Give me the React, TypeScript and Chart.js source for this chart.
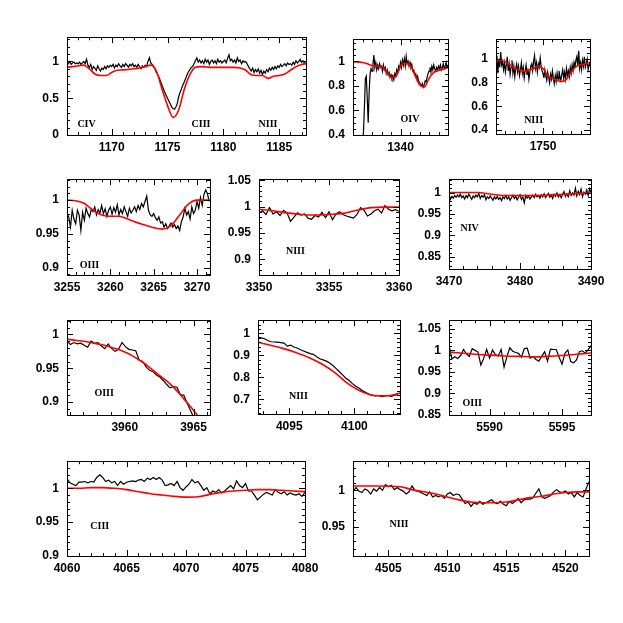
import React, { useEffect, useRef } from 'react';
import { Chart, registerables } from 'chart.js';

Chart.register(...registerables);

// ---------- Panel 1 : 1166-1187 (CIV, CIII, NIII) ----------
const p1Start = 1166;
const p1Step = 0.125;
const p1Obs = [
  0.99, 0.97, 1.00, 0.96, 0.98, 0.99, 0.97, 0.98,
  0.97, 0.99, 0.96, 0.98, 1.00, 0.97, 1.03, 0.95,
  0.92, 0.96, 0.89, 0.93, 0.91, 0.88, 0.94, 0.90,
  0.87, 0.91, 0.89, 0.93, 0.90, 0.94, 0.92, 0.95,
  0.93, 0.96, 0.91, 0.95, 0.93, 0.97, 0.94, 0.92,
  0.96, 0.93, 0.97, 0.95, 0.92, 0.96, 0.94, 0.97,
  0.93, 0.95, 0.92, 0.96, 0.93, 0.90, 0.94, 0.92,
  0.95, 0.93, 1.00, 1.05, 0.98, 0.96, 0.93, 0.90,
  0.85, 0.82, 0.78, 0.73, 0.68, 0.63, 0.58, 0.54,
  0.50, 0.46, 0.42, 0.38, 0.36, 0.35, 0.38, 0.43,
  0.52, 0.58, 0.63, 0.68, 0.72, 0.77, 0.82, 0.86,
  0.89, 0.92, 0.93, 0.97, 1.01, 1.05, 0.99, 1.02,
  0.98, 1.01, 0.97, 1.03, 0.99, 1.02, 0.96, 1.00,
  1.02, 0.98, 1.01, 0.97, 1.03, 0.99, 1.01, 0.98,
  1.00, 1.02, 0.98, 1.04, 1.09, 1.01, 1.03, 0.99,
  1.02, 0.98, 1.05, 1.00, 1.02, 0.97, 1.01, 0.99,
  1.00, 0.97, 0.93, 0.90, 0.87, 0.91, 0.85, 0.89,
  0.86, 0.90, 0.84, 0.88, 0.82, 0.87, 0.84, 0.89,
  0.86, 0.91, 0.88, 0.92, 0.89, 0.93, 0.90, 0.94,
  0.92, 0.96, 0.93, 0.95, 0.97, 0.94, 0.98, 0.96,
  0.97, 0.95, 0.99, 0.96, 1.01, 0.98, 1.00, 1.03,
  0.99, 1.01, 0.98, 1.00,
];
const p1ModelX = [1166, 1166.5, 1167, 1167.5, 1168, 1168.5, 1169, 1169.5, 1170, 1170.5, 1171, 1171.5, 1172, 1172.5, 1173, 1173.5, 1174, 1174.5, 1175, 1175.5, 1176, 1176.5, 1177, 1177.5, 1178, 1178.5, 1179, 1179.5, 1180, 1180.5, 1181, 1181.5, 1182, 1182.5, 1183, 1183.5, 1184, 1184.5, 1185, 1185.5, 1186, 1186.5, 1187, 1187.5];
const p1ModelY = [0.92, 0.93, 0.94, 0.95, 0.90, 0.83, 0.81, 0.81, 0.85, 0.88, 0.885, 0.89, 0.90, 0.91, 0.93, 0.95, 0.87, 0.63, 0.40, 0.24, 0.34, 0.62, 0.82, 0.92, 0.93, 0.925, 0.92, 0.92, 0.92, 0.92, 0.92, 0.91, 0.88, 0.82, 0.81, 0.81, 0.77, 0.80, 0.81, 0.83, 0.88, 0.93, 0.96, 0.97];
const p1XTicks = [1170, 1175, 1180, 1185];
const p1YTicks = [0, 0.5, 1];

// ---------- Panel 2 : 1335-1345 (OIV) ----------
const p2Start = 1336;
const p2Step = 0.1;
const p2Obs = [
  0.30, 0.42, 0.62, 0.86, 0.88, 0.70, 0.50, 0.75, 0.90, 0.94,
  0.92, 0.98, 1.05, 0.95, 0.99, 0.93, 0.97, 0.94, 0.98, 0.95,
  0.96, 0.92, 0.97, 0.93, 0.95, 0.90, 0.93, 0.89, 0.91, 0.87,
  0.89, 0.86, 0.88, 0.85, 0.90, 0.88, 0.93, 0.91, 0.96, 0.94,
  0.99, 0.95, 1.01, 0.97, 1.02, 0.96, 1.04, 0.98, 1.00, 0.96,
  0.99, 0.95, 0.97, 0.92, 0.93, 0.89, 0.90, 0.86, 0.88, 0.84,
  0.83, 0.81, 0.80, 0.82, 0.79, 0.81, 0.84, 0.83, 0.87, 0.90,
  0.92, 0.95, 0.91, 0.96, 0.93, 0.97, 0.94, 0.92, 0.95, 0.93,
  0.96, 0.94, 0.97, 0.93, 0.95, 0.98, 0.94, 0.96, 0.99, 0.95,
  0.97,
];
const p2ModelX = [1335, 1335.5, 1336, 1336.5, 1337, 1337.5, 1338, 1338.5, 1339, 1339.5, 1340, 1340.5, 1341, 1341.5, 1342, 1342.5, 1343, 1343.5, 1344, 1344.5, 1345];
const p2ModelY = [0.995, 0.995, 0.99, 0.98, 0.965, 0.96, 0.955, 0.92, 0.87, 0.875, 0.96, 0.985, 0.97, 0.89, 0.81, 0.79, 0.86, 0.91, 0.925, 0.935, 0.95];
const p2XTicks = [1340];
const p2YTicks = [0.4, 0.6, 0.8, 1];

// ---------- Panel 3 : 1745-1755 (NIII) ----------
const p3Start = 1745;
const p3Step = 0.1;
const p3Obs = [
  0.96, 1.03, 0.88, 1.00, 0.93, 1.06, 0.95, 0.98, 0.91, 0.97,
  0.89, 0.95, 1.02, 0.90, 0.96, 0.87, 0.93, 0.99, 0.88, 0.94,
  0.85, 0.92, 0.96, 0.89, 0.94, 0.86, 0.91, 0.97, 0.88, 0.93,
  0.84, 0.90, 0.95, 0.87, 0.92, 0.83, 0.89, 0.94, 0.96, 0.90,
  0.98, 1.03, 0.92, 0.97, 0.89, 0.96, 0.93, 1.01, 0.94, 0.90,
  0.88, 0.84, 0.91, 0.86, 0.82, 0.89, 0.85, 0.80, 0.87, 0.83,
  0.90, 0.84, 0.79, 0.86, 0.81, 0.88, 0.83, 0.90, 0.85, 0.82,
  0.87, 0.91, 0.84, 0.89, 0.83, 0.92, 0.86, 0.90, 0.85, 0.93,
  0.88, 0.95, 0.90, 0.97, 0.93, 0.99, 1.02, 0.94, 1.07, 0.92,
  0.97, 0.91, 0.99, 0.94, 1.02, 0.93, 0.96, 1.00, 0.91, 0.95,
  0.97,
];
const p3ModelX = [1745, 1745.5, 1746, 1746.5, 1747, 1747.5, 1748, 1748.5, 1749, 1749.5, 1750, 1750.5, 1751, 1751.5, 1752, 1752.5, 1753, 1753.5, 1754, 1754.5, 1755];
const p3ModelY = [0.985, 0.99, 0.975, 0.95, 0.92, 0.905, 0.898, 0.905, 0.92, 0.94, 0.92, 0.86, 0.835, 0.82, 0.81, 0.83, 0.89, 0.935, 0.95, 0.96, 0.975];
const p3XTicks = [1750];
const p3YTicks = [0.4, 0.6, 0.8, 1];

// ---------- Panel 4 : 3255-3271.5 (OIII) ----------
const p4Start = 3255;
const p4Step = 0.2;
const p4Obs = [
  0.980, 0.975, 0.960, 0.985, 0.972, 0.965, 0.985, 0.978, 0.955, 0.982,
  0.970, 0.988, 0.980, 0.975, 0.986, 0.983, 0.990, 0.978, 0.986, 0.981,
  0.992, 0.980, 0.987, 0.976, 0.985, 0.990, 0.979, 0.989, 0.982, 0.993,
  0.978, 0.986, 0.980, 0.990, 0.983, 0.976, 0.988, 0.981, 0.985, 0.990,
  0.983, 0.992, 0.986, 0.995, 0.990, 0.998, 1.006, 0.985, 0.978, 0.976,
  0.980, 0.974, 0.970, 0.975, 0.966, 0.968, 0.960, 0.965, 0.958, 0.962,
  0.966, 0.960, 0.964, 0.958, 0.962, 0.955, 0.968, 0.975, 0.988, 0.978,
  0.983, 0.972, 0.990, 0.980, 0.985, 0.998, 0.988, 1.004, 0.992, 1.008,
  1.015, 1.010, 0.998,
];
const p4ModelX = [3255, 3256, 3257, 3258, 3259, 3260, 3261, 3262, 3263, 3264, 3265, 3266, 3267, 3268, 3269, 3270, 3271, 3271.5];
const p4ModelY = [1.0, 0.999, 0.995, 0.985, 0.978, 0.976, 0.976, 0.972, 0.967, 0.963, 0.959, 0.957, 0.962, 0.978, 0.994, 1.0, 1.0, 1.0];
const p4XTicks = [3255, 3260, 3265, 3270];
const p4YTicks = [0.9, 0.95, 1];

// ---------- Panel 5 : 3350-3360 (NIII) ----------
const p5Start = 3350;
const p5Step = 0.25;
const p5Obs = [
  0.988, 0.992, 0.985, 0.998, 0.986, 0.990, 0.983, 0.993, 0.988, 0.972,
  0.980, 0.988, 0.984, 0.986, 0.978, 0.976, 0.983, 0.980, 0.989, 0.979,
  0.990, 0.975, 0.986, 0.990, 0.985, 0.982, 0.980, 0.978, 0.985, 0.998,
  0.993, 0.982, 0.986, 0.992, 0.995, 0.988, 1.002, 0.995, 0.992, 0.994,
  0.991,
];
const p5ModelX = [3350, 3351, 3352, 3353, 3354, 3355, 3356, 3357, 3358, 3359, 3360];
const p5ModelY = [0.995, 0.992, 0.988, 0.985, 0.984, 0.985, 0.987, 0.993, 0.998, 0.999, 0.999];
const p5XTicks = [3350, 3355, 3360];
const p5YTicks = [0.9, 0.95, 1, 1.05];

// ---------- Panel 6 : 3470-3490 (NIV) ----------
const p6Start = 3470;
const p6Step = 0.2;
const p6Obs = [
  0.995, 0.984, 0.991, 0.987, 0.993, 0.989, 0.994, 0.990, 0.996, 0.988,
  0.992, 0.985, 0.993, 0.988, 0.996, 0.990, 0.984, 0.992, 0.988, 0.994,
  0.990, 0.998, 0.986, 0.993, 0.989, 0.995, 0.983, 0.990, 0.986, 0.992,
  0.987, 0.982, 0.990, 0.985, 0.991, 0.984, 0.988, 0.981, 0.990, 0.986,
  0.993, 0.985, 0.990, 0.982, 0.988, 0.994, 0.986, 0.991, 0.983, 0.989,
  0.995, 0.984, 0.990, 0.976, 0.993, 0.987, 0.992, 0.985, 0.990, 0.994,
  0.988, 0.996, 0.990, 0.993, 0.987, 0.995, 0.990, 0.997, 0.988, 0.993,
  0.998, 0.989, 0.994, 0.986, 0.996, 0.991, 0.999, 0.990, 0.995, 0.988,
  0.996, 1.002, 0.991, 0.997, 0.990, 1.004, 0.993, 0.999, 0.994, 1.010,
  0.992, 1.003, 0.995, 1.008, 0.990, 1.001, 0.996, 1.006, 0.993, 1.009,
  1.000,
];
const p6ModelX = [3470, 3472, 3474, 3476, 3478, 3480, 3482, 3484, 3486, 3488, 3490];
const p6ModelY = [1.0, 1.0, 1.0, 0.996, 0.993, 0.993, 0.993, 0.994, 0.996, 0.997, 0.999];
const p6XTicks = [3470, 3480, 3490];
const p6YTicks = [0.85, 0.9, 0.95, 1];

// ---------- Panel 7 : 3955.8-3966.2 (OIII) ----------
const p7Start = 3955.8;
const p7Step = 0.25;
const p7Obs = [
  0.991, 0.985, 0.988, 0.986, 0.987, 0.984, 0.981, 0.990, 0.987, 0.988,
  0.983, 0.979, 0.986, 0.979, 0.975, 0.978, 0.988, 0.982, 0.978, 0.977,
  0.976, 0.962, 0.960, 0.952, 0.947, 0.945, 0.940, 0.937, 0.932, 0.926,
  0.921, 0.923, 0.922, 0.911, 0.910, 0.898, 0.887, 0.876,
];
const p7ModelX = [3955.8, 3956.5, 3957, 3957.5, 3958, 3958.5, 3959, 3959.5, 3960, 3960.5, 3961, 3961.5, 3962, 3962.5, 3963, 3963.5, 3964, 3964.5, 3965, 3965.3];
const p7ModelY = [0.993, 0.991, 0.990, 0.988, 0.986, 0.984, 0.981, 0.978, 0.974, 0.969, 0.963, 0.956, 0.948, 0.940, 0.932, 0.923, 0.912, 0.900, 0.888, 0.880];
const p7XTicks = [3960, 3965];
const p7YTicks = [0.9, 0.95, 1];

// ---------- Panel 8 : 4092.6-4103.5 (NIII) ----------
const p8Start = 4092.6;
const p8Step = 0.25;
const p8Obs = [
  0.983, 0.980, 0.976, 0.968, 0.962, 0.961, 0.960, 0.958, 0.956, 0.942,
  0.947, 0.938, 0.934, 0.926, 0.920, 0.914, 0.908, 0.905, 0.894, 0.885,
  0.880, 0.874, 0.866, 0.854, 0.840, 0.826, 0.812, 0.796, 0.786, 0.772,
  0.760, 0.752, 0.740, 0.733, 0.725, 0.720, 0.716, 0.718, 0.713, 0.716,
  0.718, 0.714, 0.720, 0.722,
];
const p8ModelX = [4092.6, 4093.5, 4094.5, 4095.5, 4096.5, 4097.5, 4098.5, 4099.5, 4100.5, 4101.5, 4102.5, 4103.5];
const p8ModelY = [0.960, 0.947, 0.932, 0.913, 0.891, 0.861, 0.822, 0.772, 0.737, 0.718, 0.717, 0.729];
const p8XTicks = [4095, 4100];
const p8YTicks = [0.7, 0.8, 0.9, 1];

// ---------- Panel 9 : 5587.2-5597 (OIII) ----------
const p9Start = 5587.2;
const p9Step = 0.2;
const p9Obs = [
  1.012, 0.980, 0.985, 0.981, 0.988, 1.002, 0.992, 0.986, 1.004, 1.000,
  0.996, 0.966, 0.982, 1.002, 0.982, 1.001, 0.990, 0.987, 1.002, 0.961,
  0.986, 1.006, 0.998, 0.995, 0.993, 0.984, 1.004, 1.005, 0.982, 0.986,
  0.979, 0.975, 0.986, 0.997, 0.975, 1.003, 1.002, 1.002, 0.984, 0.968,
  0.993, 1.001, 0.974, 0.971, 0.978, 0.997, 0.999, 0.994, 1.001, 1.011,
];
const p9ModelX = [5587.2, 5588, 5589, 5590, 5591, 5592, 5593, 5594, 5595, 5596, 5597];
const p9ModelY = [0.996, 0.994, 0.991, 0.989, 0.987, 0.986, 0.985, 0.986, 0.988, 0.991, 0.994];
const p9XTicks = [5590, 5595];
const p9YTicks = [0.85, 0.9, 0.95, 1, 1.05];

// ---------- Panel 10 : 4060-4080 (CIII) ----------
const p10Start = 4060;
const p10Step = 0.25;
const p10Obs = [
  1.014, 1.008, 1.006, 1.004, 1.009, 1.009, 1.010, 1.008, 1.010, 1.009,
  1.016, 1.020, 1.016, 1.010, 1.012, 1.008, 1.010, 1.004, 1.010, 1.006,
  1.009, 1.010, 1.011, 1.010, 1.012, 1.013, 1.010, 1.015, 1.013, 1.016,
  1.013, 1.016, 1.012, 1.004, 1.005, 1.007, 1.004, 1.010, 1.001, 0.997,
  1.002, 1.006, 1.013, 1.008, 1.010, 1.004, 0.997, 1.001, 0.992, 0.996,
  0.994, 0.998, 0.993, 0.996, 1.000, 1.004, 0.999, 1.011, 1.004, 1.001,
  1.007, 0.996, 0.996, 0.990, 0.983, 0.987, 0.991, 0.994, 0.992, 0.990,
  0.998, 0.994, 0.992, 0.995, 0.990, 0.993, 0.991, 0.990, 0.992, 0.988,
  0.994,
];
const p10ModelX = [4060, 4061, 4062, 4063, 4064, 4065, 4066, 4067, 4068, 4069, 4070, 4071, 4072, 4073, 4074, 4075, 4076, 4077, 4078, 4079, 4080];
const p10ModelY = [1.0, 1.0, 1.001, 1.001, 1.0, 0.998, 0.995, 0.992, 0.990, 0.988, 0.987, 0.9875, 0.991, 0.994, 0.996, 0.997, 0.998, 0.998, 0.997, 0.996, 0.995];
const p10XTicks = [4060, 4065, 4070, 4075, 4080];
const p10YTicks = [0.9, 0.95, 1];

// ---------- Panel 11 : 4502-4522 (NIII) ----------
const p11Start = 4502;
const p11Step = 0.25;
const p11Obs = [
  0.998, 1.004, 0.999, 0.997, 1.002, 1.000, 0.995, 1.002, 0.999, 1.004,
  1.000, 1.008, 1.005, 1.007, 1.001, 1.004, 1.001, 0.999, 0.995, 0.998,
  1.006, 1.000, 0.999, 0.997, 0.995, 0.993, 0.998, 0.991, 0.993, 0.991,
  0.993, 0.989, 0.995, 0.997, 0.993, 0.995, 0.994, 0.988, 0.982, 0.984,
  0.978, 0.983, 0.981, 0.985, 0.981, 0.983, 0.985, 0.987, 0.983, 0.982,
  0.985, 0.981, 0.979, 0.985, 0.982, 0.985, 0.989, 0.983, 0.987, 0.988,
  0.988, 0.990, 0.996, 1.002, 0.991, 0.989, 0.991, 0.993, 0.998, 1.001,
  0.998, 0.997, 0.999, 0.995, 0.997, 0.991, 0.997, 0.993, 0.991, 1.002,
  1.012,
];
const p11ModelX = [4502, 4504, 4506, 4507, 4508, 4509, 4510, 4511, 4512, 4513, 4514, 4515, 4516, 4517, 4518, 4519, 4520, 4521, 4522];
const p11ModelY = [1.006, 1.006, 1.005, 1.001, 0.998, 0.995, 0.991, 0.987, 0.984, 0.983, 0.983, 0.984, 0.987, 0.990, 0.992, 0.995, 0.997, 0.998, 0.998];
const p11XTicks = [4505, 4510, 4515, 4520];
const p11YTicks = [0.95, 1];

// ---------- panel layout (box in page pixels: left, top, right, bottom) ----------
type Label = { text: string; x: number; y: number };
type PanelCfg = {
  box: [number, number, number, number];
  xMin: number; xMax: number; yMin: number; yMax: number;
  xTicks: number[]; yTicks: number[]; xMinor: number; yMinor: number;
  obsStart: number; obsStep: number; obs: number[];
  modelX: number[]; modelY: number[];
  labels: Label[];
};

const PANELS: PanelCfg[] = [
  { box: [67, 32, 306, 135], xMin: 1166, xMax: 1187.4, yMin: 0, yMax: 1.33, xTicks: p1XTicks, yTicks: p1YTicks, xMinor: 1, yMinor: 0.1,
    obsStart: p1Start, obsStep: p1Step, obs: p1Obs, modelX: p1ModelX, modelY: p1ModelY,
    labels: [{ text: 'CIV', x: 1167.75, y: 0.15 }, { text: 'CIII', x: 1178.0, y: 0.15 }, { text: 'NIII', x: 1184.0, y: 0.15 }] },
  { box: [353, 34, 448, 135], xMin: 1335, xMax: 1345, yMin: 0.4, yMax: 1.18, xTicks: p2XTicks, yTicks: p2YTicks, xMinor: 1, yMinor: 0.05,
    obsStart: p2Start, obsStep: p2Step, obs: p2Obs, modelX: p2ModelX, modelY: p2ModelY,
    labels: [{ text: 'OIV', x: 1341.0, y: 0.525 }] },
  { box: [496, 34, 590, 134], xMin: 1745, xMax: 1755, yMin: 0.366, yMax: 1.168, xTicks: p3XTicks, yTicks: p3YTicks, xMinor: 1, yMinor: 0.05,
    obsStart: p3Start, obsStep: p3Step, obs: p3Obs, modelX: p3ModelX, modelY: p3ModelY,
    labels: [{ text: 'NIII', x: 1749.0, y: 0.48 }] },
  { box: [67, 174, 210, 275], xMin: 3255, xMax: 3271.5, yMin: 0.889, yMax: 1.031, xTicks: p4XTicks, yTicks: p4YTicks, xMinor: 1, yMinor: 0.01,
    obsStart: p4Start, obsStep: p4Step, obs: p4Obs, modelX: p4ModelX, modelY: p4ModelY,
    labels: [{ text: 'OIII', x: 3257.6, y: 0.903 }] },
  { box: [259, 174, 399, 275], xMin: 3350, xMax: 3360, yMin: 0.87, yMax: 1.052, xTicks: p5XTicks, yTicks: p5YTicks, xMinor: 1, yMinor: 0.01,
    obsStart: p5Start, obsStep: p5Step, obs: p5Obs, modelX: p5ModelX, modelY: p5ModelY,
    labels: [{ text: 'NIII', x: 3352.6, y: 0.9155 }] },
  { box: [449, 174, 591, 269], xMin: 3470, xMax: 3490, yMin: 0.822, yMax: 1.031, xTicks: p6XTicks, yTicks: p6YTicks, xMinor: 2, yMinor: 0.01,
    obsStart: p6Start, obsStep: p6Step, obs: p6Obs, modelX: p6ModelX, modelY: p6ModelY,
    labels: [{ text: 'NIV', x: 3472.9, y: 0.917 }] },
  { box: [67, 315, 210, 415], xMin: 3955.8, xMax: 3966.2, yMin: 0.881, yMax: 1.021, xTicks: p7XTicks, yTicks: p7YTicks, xMinor: 1, yMinor: 0.01,
    obsStart: p7Start, obsStep: p7Step, obs: p7Obs, modelX: p7ModelX, modelY: p7ModelY,
    labels: [{ text: 'OIII', x: 3958.5, y: 0.913 }] },
  { box: [258, 315, 400, 414], xMin: 4092.6, xMax: 4103.5, yMin: 0.634, yMax: 1.06, xTicks: p8XTicks, yTicks: p8YTicks, xMinor: 1, yMinor: 0.02,
    obsStart: p8Start, obsStep: p8Step, obs: p8Obs, modelX: p8ModelX, modelY: p8ModelY,
    labels: [{ text: 'NIII', x: 4095.7, y: 0.714 }] },
  { box: [449, 315, 591, 415], xMin: 5587.2, xMax: 5597, yMin: 0.85, yMax: 1.07, xTicks: p9XTicks, yTicks: p9YTicks, xMinor: 1, yMinor: 0.01,
    obsStart: p9Start, obsStep: p9Step, obs: p9Obs, modelX: p9ModelX, modelY: p9ModelY,
    labels: [{ text: 'OIII', x: 5588.8, y: 0.876 }] },
  { box: [67, 456, 305, 556], xMin: 4060, xMax: 4080, yMin: 0.9, yMax: 1.04, xTicks: p10XTicks, yTicks: p10YTicks, xMinor: 1, yMinor: 0.01,
    obsStart: p10Start, obsStep: p10Step, obs: p10Obs, modelX: p10ModelX, modelY: p10ModelY,
    labels: [{ text: 'CIII', x: 4062.75, y: 0.943 }] },
  { box: [353, 456, 589, 556], xMin: 4502, xMax: 4522, yMin: 0.91, yMax: 1.04, xTicks: p11XTicks, yTicks: p11YTicks, xMinor: 1, yMinor: 0.01,
    obsStart: p11Start, obsStep: p11Step, obs: p11Obs, modelX: p11ModelX, modelY: p11ModelY,
    labels: [{ text: 'NIII', x: 4505.9, y: 0.9535 }] },
];

const AXIS_W = 45;
const AXIS_H = 22;
const PAD_T = 10;
const PAD_R = 22;
const TICK_FONT = { family: '"Liberation Sans", Arial, sans-serif', size: 12, weight: 'bold' as const };

function fmt(v: number) {
  return String(Number(v.toFixed(3)));
}

function tickValues(min: number, max: number, step: number) {
  const out: number[] = [];
  const i0 = Math.ceil(min / step - 1e-6);
  const i1 = Math.floor(max / step + 1e-6);
  for (let i = i0; i <= i1; i++) out.push(i * step);
  return out;
}

function Panel({ cfg }: { cfg: PanelCfg }) {
  const ref = useRef<HTMLCanvasElement | null>(null);
  const [L, T, R, B] = cfg.box;
  const w = R - L + AXIS_W + PAD_R;
  const h = B - T + AXIS_H + PAD_T;

  useEffect(() => {
    if (!ref.current) return;
    const framePlugin = {
      id: 'frameTicks',
      afterDatasetsDraw(chart: any) {
        const { ctx, chartArea: a, scales } = chart;
        const xs = scales.x;
        const ys = scales.y;
        ctx.save();
        ctx.strokeStyle = '#000';
        ctx.lineWidth = 1;
        ctx.beginPath();
        const majX = new Set(cfg.xTicks.map((v) => v.toFixed(4)));
        const majY = new Set(cfg.yTicks.map((v) => v.toFixed(4)));
        for (const v of tickValues(cfg.xMin, cfg.xMax, cfg.xMinor)) {
          const px = Math.round(xs.getPixelForValue(v)) + 0.5;
          const len = majX.has(v.toFixed(4)) ? 6 : 3;
          ctx.moveTo(px, a.bottom);
          ctx.lineTo(px, a.bottom - len);
          ctx.moveTo(px, a.top);
          ctx.lineTo(px, a.top + len);
        }
        for (const v of tickValues(cfg.yMin, cfg.yMax, cfg.yMinor)) {
          const py = Math.round(ys.getPixelForValue(v)) + 0.5;
          const len = majY.has(v.toFixed(4)) ? 6 : 3;
          ctx.moveTo(a.left, py);
          ctx.lineTo(a.left + len, py);
          ctx.moveTo(a.right, py);
          ctx.lineTo(a.right - len, py);
        }
        ctx.stroke();
        ctx.strokeRect(Math.round(a.left) + 0.5, Math.round(a.top) + 0.5, Math.round(a.right - a.left), Math.round(a.bottom - a.top));
        ctx.fillStyle = '#000';
        ctx.font = 'bold 10px "Liberation Serif", "Times New Roman", serif';
        ctx.textAlign = 'center';
        ctx.textBaseline = 'middle';
        for (const lb of cfg.labels) {
          ctx.fillText(lb.text, xs.getPixelForValue(lb.x), ys.getPixelForValue(lb.y));
        }
        ctx.restore();
      },
    };

    const chart = new Chart(ref.current, {
      type: 'line',
      data: {
        datasets: [
          {
            data: cfg.modelX.map((x, i) => ({ x, y: cfg.modelY[i] })),
            borderColor: '#ff0000',
            borderWidth: 1.6,
            pointRadius: 0,
            cubicInterpolationMode: 'monotone',
            fill: false,
            order: 0,
          },
          {
            data: cfg.obs.map((y, i) => ({ x: cfg.obsStart + i * cfg.obsStep, y })),
            borderColor: '#000000',
            borderWidth: 1.2,
            pointRadius: 0,
            tension: 0,
            fill: false,
            order: 1,
          },
        ],
      },
      options: {
        responsive: false,
        animation: false,
        parsing: false as any,
        normalized: true,
        layout: { padding: { top: PAD_T, right: PAD_R, left: 0, bottom: 0 } },
        plugins: { legend: { display: false }, tooltip: { enabled: false } },
        events: [],
        scales: {
          x: {
            type: 'linear',
            min: cfg.xMin,
            max: cfg.xMax,
            grid: { display: false, drawTicks: false },
            border: { display: false },
            ticks: { autoSkip: false, maxRotation: 0, padding: 5, color: '#000', font: TICK_FONT, callback: (v: any) => fmt(Number(v)) },
            afterBuildTicks: (s: any) => { s.ticks = cfg.xTicks.map((v) => ({ value: v })); },
            afterFit: (s: any) => { s.height = AXIS_H; },
          },
          y: {
            type: 'linear',
            min: cfg.yMin,
            max: cfg.yMax,
            grid: { display: false, drawTicks: false },
            border: { display: false },
            ticks: { autoSkip: false, padding: 8, color: '#000', font: TICK_FONT, callback: (v: any) => fmt(Number(v)) },
            afterBuildTicks: (s: any) => { s.ticks = cfg.yTicks.map((v) => ({ value: v })); },
            afterFit: (s: any) => { s.width = AXIS_W; },
          },
        },
      } as any,
      plugins: [framePlugin],
    });
    return () => chart.destroy();
  }, [cfg]);

  return (
    <canvas
      ref={ref}
      width={w}
      height={h}
      style={{ position: 'absolute', left: L - AXIS_W, top: T - PAD_T, width: w, height: h }}
    />
  );
}

export default function App() {
  return (
    <div style={{ position: 'absolute', left: 0, top: 0, width: 623, height: 623, background: '#fff', overflow: 'hidden' }}>
      {PANELS.map((p, i) => (
        <Panel key={i} cfg={p} />
      ))}
    </div>
  );
}
